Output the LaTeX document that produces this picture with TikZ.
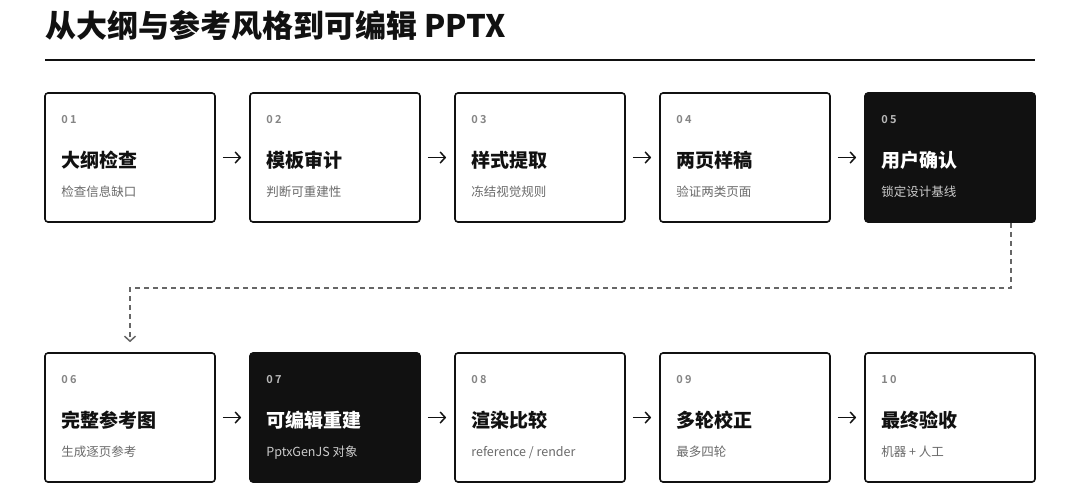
\documentclass[tikz,border=0pt]{standalone}
\usepackage{xcolor}
\usepackage{fontspec}
\setmainfont{Noto Sans CJK SC}
\newfontfamily\titlefont{Noto Sans CJK SC Black}
\newfontfamily\numfont[LetterSpace=20]{Noto Sans CJK SC Bold}
\usepackage{tikz}
\usetikzlibrary{positioning,calc,arrows.meta}

\definecolor{ink}{HTML}{111111}
\definecolor{numgray}{HTML}{858585}
\definecolor{subgray}{HTML}{6A6A6A}
\definecolor{dashgray}{HTML}{666666}

\begin{document}
\begin{tikzpicture}[
			x = 1pt, y = -1pt,
			>={Straight Barb[length=5pt,width=11pt]},
			box/.style = {rectangle, rounded corners = 3pt, line width = 1.6pt,
				minimum width = 170pt, minimum height = 129pt, inner sep = 0pt},
			numbase/.style = {anchor = base west, inner sep = 0pt,
				font = \numfont\fontsize{11}{13}\selectfont},
			headbase/.style = {anchor = base west, inner sep = 0pt,
				font = \fontsize{19}{22}\selectfont\bfseries},
			subbase/.style = {anchor = base west, inner sep = 0pt,
				font = \fontsize{12.5}{15}\selectfont},
			light/.style = {
				card/.style = {box, draw = ink, fill = white},
				num/.style = {numbase, text = numgray},
				head/.style = {headbase, text = ink},
				sub/.style = {subbase, text = subgray}},
			dark/.style = {
				card/.style = {box, draw = ink, fill = ink},
				num/.style = {numbase, text = white!72!black},
				head/.style = {headbase, text = white},
				sub/.style = {subbase, text = white!80!black}},
			flow/.style = {->, line width = 1.5pt, draw = ink, shorten <= 7pt, shorten >= 8pt},
			loopback/.style = {->, line width = 1.5pt, draw = dashgray, dash pattern = on 5pt off 4pt}
			]

			\useasboundingbox (0,0) rectangle (1076,498);

			% title and rule
			\node[anchor = base west, inner sep = 0pt, text = ink,
				font = \fontsize{31}{35}\selectfont\titlefont] (title) at (45,37) {从大纲与参考风格到可编辑 PPTX};
			\draw[line width = 1.5pt, ink] (45,60) -- (1035,60);

			% steps
			\foreach \n/\px/\py/\kind/\head/\sub in {
				01/130/157.5/light/大纲检查/检查信息缺口,
				02/335/157.5/light/模板审计/判断可重建性,
				03/540/157.5/light/样式提取/冻结视觉规则,
				04/745/157.5/light/两页样稿/验证两类页面,
				05/950/157.5/dark/用户确认/锁定设计基线,
				06/130/417.5/light/完整参考图/生成逐页参考,
				07/335/417.5/dark/可编辑重建/{PptxGenJS 对象},
				08/540/417.5/light/渲染比较/{reference / render},
				09/745/417.5/light/多轮校正/最多四轮,
				10/950/417.5/light/最终验收/{机器 + 人工}}{
				\begin{scope}[\kind]
					\node[card] (b\n) at (\px,\py) {};
					\node[num] (n\n) at ($(b\n.north west)+(17,31)$) {\n};
					\node[head] (h\n) at ($(b\n.north west)+(17,75)$) {\head};
					\node[sub] (s\n) at ($(b\n.north west)+(17,104)$) {\sub};
				\end{scope}
			}

			% arrows
			\foreach \a/\b in {01/02,02/03,03/04,04/05,06/07,07/08,08/09,09/10}
				\draw[flow] (b\a) -- (b\b);

			\coordinate (turn) at ($(b05.south east)+(-25,0)$);
			\coordinate (drop) at ($(b06.north)+(0,-10)$);
			\draw[loopback] (turn) -- ++(0,65) -| (drop);

		\end{tikzpicture}
\end{document}
